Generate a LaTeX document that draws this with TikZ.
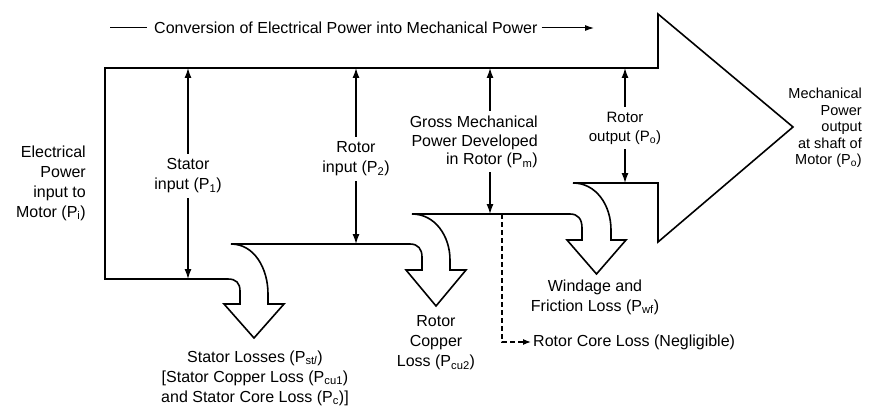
\documentclass[tikz,border=0pt]{standalone}
\usepackage{fontspec}
\setmainfont{Liberation Sans}
\usetikzlibrary{arrows.meta}
\begin{document}
\begin{tikzpicture}[x=1pt,y=-1pt,
  outline/.style={line width=1.6pt, line join=miter},
  arr/.style={line width=1.3pt, -{Latex[length=10pt,width=7pt]}, shorten <=5pt},
  lbl/.style={inner sep=0pt, align=center, font=\fontsize{16}{20}\selectfont},
  small/.style={inner sep=0pt, font=\fontsize{14.5}{16.5}\selectfont}]
\useasboundingbox (0,0) rectangle (869,417);

% main power-flow outline
\draw[outline] (105,279) -- (105,68) -- (658,68) -- (658,14) -- (793,127) -- (658,242) -- (658,183) -- (573,183)
  .. controls (596,183) and (611,205) .. (611,230) -- (611,240) -- (626,240) -- (596.5,274) -- (567,240) -- (582,240) -- (582,228)
  .. controls (582,219) and (578,214) .. (570,214) -- (412,214)
  .. controls (435,214) and (450,236) .. (450,260) -- (450,270) -- (466,270) -- (436,306) -- (406,270) -- (422,270) -- (422,257)
  .. controls (422,249) and (418,244) .. (410,244) -- (231,244)
  .. controls (254,244) and (268,268) .. (268,294) -- (268,304) -- (284,304) -- (254,338) -- (224,304) -- (240,304) -- (240,291)
  .. controls (240,283) and (236,279) .. (228,279) -- cycle;

% title
\node[lbl, anchor=west] (title) at (154,28) {Conversion of Electrical Power into Mechanical Power};
\coordinate (tl) at (110,28);
\coordinate (tr) at (594,28);
\draw[line width=1pt] (tl) -- ([xshift=-7pt]title.west);
\draw[line width=1pt, -{Latex[length=9pt,width=6pt]}] ([xshift=4pt]title.east) -- (tr);

% left text
\node[lbl, align=right, anchor=east] (ein) at (86,183) {Electrical\\Power\\input to\\Motor (P\textsubscript{i})};

% stator input
\coordinate (sinT) at (188,68);
\coordinate (sinB) at (188,279);
\node[lbl] (sin) at (188,176) {Stator\\input (P\textsubscript{1})};
\draw[arr] (sin) -- (sinT);
\draw[arr] (sin) -- (sinB);

% rotor input
\coordinate (rinT) at (356,68);
\coordinate (rinB) at (356,244);
\node[lbl] (rin) at (356,159) {Rotor\\input (P\textsubscript{2})};
\draw[arr] (rin) -- (rinT);
\draw[arr] (rin) -- (rinB);

% gross mechanical power
\coordinate (gmT) at (490,68);
\coordinate (gmB) at (490,214);
\node[lbl, align=right, anchor=east, font=\fontsize{16}{18.5}\selectfont] (gm) at (538,142) {Gross Mechanical\\Power Developed\\in Rotor (P\textsubscript{m})};
\draw[arr] (gmT |- gm.north) -- (gmT);
\draw[arr, shorten <=4pt] (gmB |- gm.south) -- (gmB);

% rotor output
\coordinate (roT) at (625,68);
\coordinate (roB) at (625,183);
\node[lbl, font=\fontsize{15}{19}\selectfont] (ro) at (625,128) {Rotor\\output (P\textsubscript{o})};
\draw[arr] (ro) -- (roT);
\draw[arr] (ro) -- (roB);

% mechanical output
\node[small, align=right, anchor=east] (mout) at (862,128) {Mechanical\\Power\\output\\at shaft of\\Motor (P\textsubscript{o})};

% losses
\node[lbl] (sl) at (255,378) {Stator Losses (P\textsubscript{st\textit{l}})\\{[}Stator Copper Loss (P\textsubscript{cu1})\\ and Stator Core Loss (P\textsubscript{c})]};
\node[lbl] (rcu) at (436,343) {Rotor\\Copper\\Loss (P\textsubscript{cu2})};
\node[lbl] (wf) at (595,297) {Windage and\\Friction Loss (P\textsubscript{wf})};

% rotor core loss
\coordinate (rc1) at (502,214);
\coordinate (rc2) at (502,342);
\node[lbl, anchor=west] (rcl) at (533,342) {Rotor Core Loss (Negligible)};
\draw[line width=1.2pt, dash pattern=on 5pt off 3pt, -{Latex[length=8pt,width=6pt]}, shorten >=2pt] (rc1) -- (rc2) -- (rcl.west);
\end{tikzpicture}
\end{document}
